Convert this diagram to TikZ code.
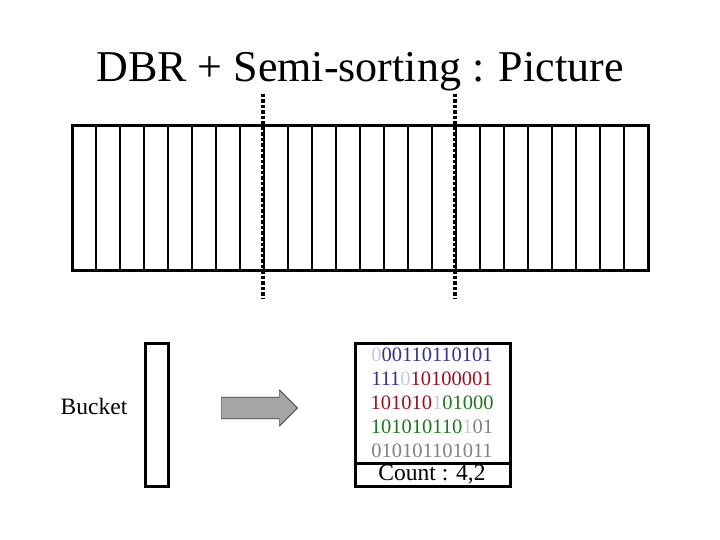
\documentclass[tikz,border=0pt]{standalone}
\usepackage{fontspec}
\setmainfont{Liberation Serif}
\usetikzlibrary{shapes.arrows}
\definecolor{lt}{RGB}{200,200,220}
\definecolor{bl}{RGB}{50,50,150}
\definecolor{rd}{RGB}{150,20,30}
\definecolor{gr}{RGB}{30,120,30}
\definecolor{gy}{RGB}{130,130,130}
\tikzset{box/.style={draw,line width=3pt},bits/.style={font=\fontsize{20.5}{20.5}\selectfont,anchor=center}}
\begin{document}
\begin{tikzpicture}[x=1pt,y=-1pt]
\useasboundingbox (0,0) rectangle (720,540);
\node[font=\fontsize{44}{44}\selectfont] (title) at (360,72) {DBR + Semi-sorting : Picture};
\draw[box] (72,126) rectangle (648,270);
\foreach \i in {1,...,23} \draw[line width=2pt] (72+24*\i,126) -- (72+24*\i,270);
\coordinate (d1a) at (263,94); \coordinate (d1b) at (263,298);
\coordinate (d2a) at (455,94); \coordinate (d2b) at (455,298);
\draw[line width=3.5pt,dotted] (d1a) -- (d1b);
\draw[line width=3.5pt,dotted] (d2a) -- (d2b);
\node[font=\fontsize{23.5}{23.5}\selectfont] (bucket) at (94,406) {Bucket};
\draw[box] (145,343) rectangle (168,486);
\node[single arrow,draw,fill=gray!70,minimum height=76pt,minimum width=36pt,single arrow head extend=4pt,single arrow head indent=0pt,inner sep=6pt] (arr) at (254,408) {};
\draw[box] (355,343) rectangle (510,486);
\draw[box] (355,463) -- (510,463);
\node[bits] (l1) at (432,355) {\textcolor{lt}{0}\textcolor{bl}{00110110101}};
\node[bits] (l2) at (432,379) {\textcolor{bl}{111}\textcolor{lt}{0}\textcolor{rd}{10100001}};
\node[bits] (l3) at (432,403) {\textcolor{rd}{101010}\textcolor{lt}{1}\textcolor{gr}{01000}};
\node[bits] (l4) at (432,427) {\textcolor{gr}{101010110}\textcolor{lt}{1}\textcolor{gy}{01}};
\node[bits] (l5) at (432,451) {\textcolor{gy}{010101101011}};
\node[font=\fontsize{23.5}{23.5}\selectfont] (count) at (432,475) {Count : 4,2};
\end{tikzpicture}
\end{document}
